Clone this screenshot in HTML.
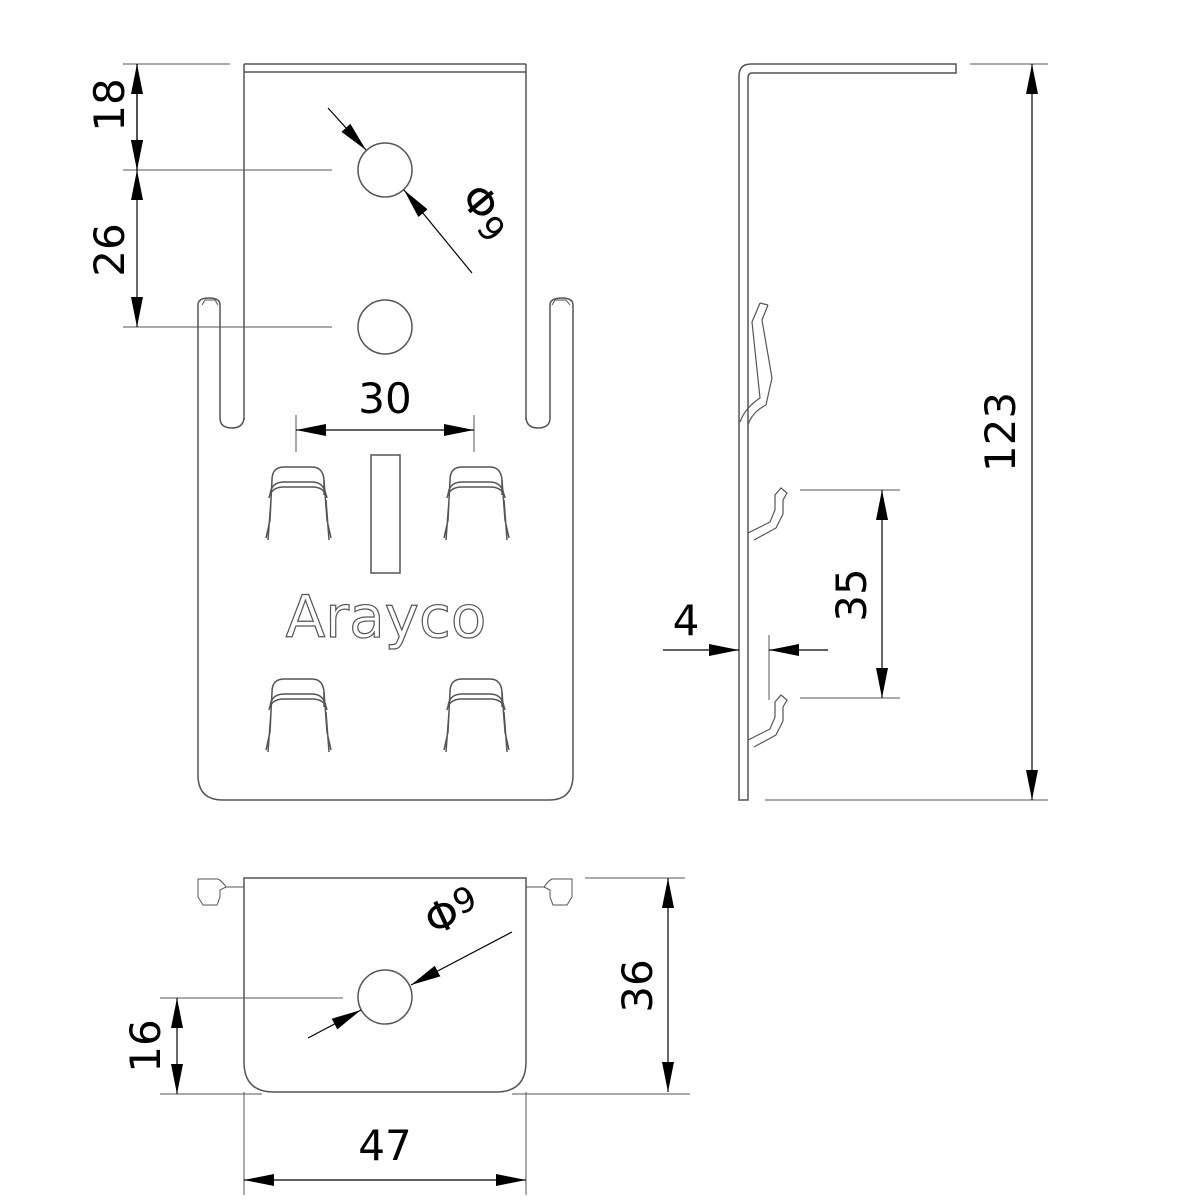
<!DOCTYPE html>
<html><head><meta charset="utf-8"><style>
html,body{margin:0;padding:0;background:#fff;width:1200px;height:1200px;overflow:hidden}
text{font-family:"DejaVu Sans","Liberation Sans",sans-serif;fill:#000}
</style></head><body>
<svg width="1200" height="1200" viewBox="0 0 1200 1200" xmlns="http://www.w3.org/2000/svg">
<defs>
<marker id="a" viewBox="0 0 10 4" refX="10" refY="2" markerWidth="30" markerHeight="12" markerUnits="userSpaceOnUse" orient="auto"><path d="M0 0 L10 2 L0 4 Z" fill="#000"/></marker>
</defs>
<g fill="none" stroke="#555" stroke-width="1.5">
<!-- FRONT VIEW -->
<line x1="244" y1="64" x2="526" y2="64"/>
<line x1="244" y1="72" x2="526" y2="72"/>
<line x1="244" y1="64" x2="244" y2="420"/>
<line x1="526" y1="64" x2="526" y2="420"/>
<path d="M244 418 Q243 428 232 428 Q220 428 220 418 L220 305 Q220 298 209 298 Q198 298 198 305 L198 775 Q198 800 223 800 L549 800 Q573 800 573 775 L573 305 Q573 298 562 298 Q550 298 550 305 L550 418 Q550 428 538 428 Q527 428 526 418"/>
<path d="M202 305 L205 300 L215 300 L218 305 M552 305 L555 300 L566 300 L570 305" stroke-width="1"/>
<circle cx="385" cy="170" r="27"/>
<circle cx="385" cy="327" r="27"/>
<rect x="371" y="455" width="29" height="118"/>
<!-- tabs -->
<g id="tab">
<path d="M272 480 Q272 467 284 467 L312 467 Q323 467 324 480 L324 495"/>
<path d="M270 495 Q271 482 284 482 L312 482 Q324 482 326 495"/>
<path d="M269 498 Q271 487 284 487 L312 487 Q325 487 327 498"/>
<path d="M272 480 L270 520 L266 538 M271 500 L268 540"/>
<path d="M324 480 L327 520 L331 538 M326 500 L329 540"/>
</g>
<use href="#tab" x="178"/>
<use href="#tab" y="212"/>
<use href="#tab" x="178" y="212"/>
<!-- dims front -->
<line x1="123" y1="64" x2="230" y2="64" stroke-width="1"/>
<line x1="123" y1="170" x2="332" y2="170" stroke-width="1"/>
<line x1="123" y1="327" x2="332" y2="327" stroke-width="1"/>
<line x1="296" y1="415" x2="296" y2="452" stroke-width="1"/>
<line x1="474" y1="415" x2="474" y2="452" stroke-width="1"/>
<!-- SIDE VIEW -->
<path d="M739 800 L739 76 Q739 64 751 64 L956 64 L956 73 L752 73 Q748 73 748 78 L748 800 Z"/>
<path d="M748 425 Q752 412 766 405 L772 378 L762 320 L768 305 M740 422 Q745 408 760 398 L752 322 L760 303 M760 303 L768 305" stroke-width="1.2"/>
<path d="M748 533 L770 522 L775 510 L775 495 L781 488 L787 493 L783 500 L783 514 L776 528 L754 540" stroke-width="1.2"/>
<path d="M748 740 L770 729 L775 717 L775 702 L781 695 L787 700 L783 707 L783 721 L776 735 L754 747" stroke-width="1.2"/>
<line x1="970" y1="64" x2="1048" y2="64" stroke-width="1"/>
<line x1="765" y1="800" x2="1048" y2="800" stroke-width="1"/>
<line x1="800" y1="490" x2="900" y2="490" stroke-width="1"/>
<line x1="800" y1="698" x2="900" y2="698" stroke-width="1"/>
<line x1="769" y1="635" x2="769" y2="700" stroke-width="1"/>
<!-- BOTTOM VIEW -->
<path d="M244 878 L526 878 L526 1062 Q526 1092 496 1092 L274 1092 Q244 1092 244 1062 Z"/>
<line x1="244" y1="1092" x2="244" y2="1195" stroke-width="1"/>
<line x1="526" y1="1092" x2="526" y2="1195" stroke-width="1"/>
<path d="M244 887 L226 887 Q222 881 218 879 L198 879 L198 897 L203 905 L217 905 L220 897 L220 890 L226 887" stroke-width="1"/>
<path d="M526 887 L544 887 Q548 881 552 879 L572 879 L572 897 L567 905 L553 905 L550 897 L550 890 L544 887" stroke-width="1"/>
<circle cx="385" cy="997" r="27"/>
<line x1="160" y1="998" x2="343" y2="998" stroke-width="1"/>
<line x1="160" y1="1094" x2="262" y2="1094" stroke-width="1"/>
<line x1="512" y1="1094" x2="690" y2="1094" stroke-width="1"/>
<line x1="585" y1="878" x2="685" y2="878" stroke-width="1"/>
</g>
<g stroke="#000" stroke-width="1.2" fill="none">
<line x1="137" y1="64" x2="137" y2="170" marker-start="url(#a)" marker-end="url(#a)" style="marker-start:none"/>
<path d="M137 117 L137 64" marker-end="url(#a)"/><path d="M137 117 L137 170" marker-end="url(#a)"/>
<path d="M137 248 L137 170" marker-end="url(#a)"/><path d="M137 248 L137 327" marker-end="url(#a)"/>
<path d="M328 108 L366 150" marker-end="url(#a)"/>
<path d="M472 273 L404 190" marker-end="url(#a)"/>
<path d="M385 430 L296 430" marker-end="url(#a)"/><path d="M385 430 L474 430" marker-end="url(#a)"/>
<path d="M1032 430 L1032 64" marker-end="url(#a)"/><path d="M1032 430 L1032 800" marker-end="url(#a)"/>
<path d="M882 594 L882 490" marker-end="url(#a)"/><path d="M882 594 L882 698" marker-end="url(#a)"/>
<path d="M663 650 L739 650" marker-end="url(#a)"/><path d="M828 650 L769 650" marker-end="url(#a)"/>
<path d="M177 1046 L177 998" marker-end="url(#a)"/><path d="M177 1046 L177 1094" marker-end="url(#a)"/>
<path d="M668 985 L668 878" marker-end="url(#a)"/><path d="M668 985 L668 1092" marker-end="url(#a)"/>
<path d="M385 1180 L244 1180" marker-end="url(#a)"/><path d="M385 1180 L526 1180" marker-end="url(#a)"/>
<path d="M512 932 L411 985" marker-end="url(#a)"/>
<path d="M308 1038 L361 1010" marker-end="url(#a)"/>
</g>
<g font-size="42">
<text transform="translate(124,105) rotate(-90)" text-anchor="middle">18</text>
<text transform="translate(124,250) rotate(-90)" text-anchor="middle">26</text>
<text x="385" y="413" text-anchor="middle">30</text>
<text transform="translate(1015,432) rotate(-90)" text-anchor="middle">123</text>
<text transform="translate(866,595) rotate(-90)" text-anchor="middle">35</text>
<text x="686" y="635" text-anchor="middle">4</text>
<text transform="translate(160,1046) rotate(-90)" text-anchor="middle">16</text>
<text transform="translate(652,986) rotate(-90)" text-anchor="middle">36</text>
<text x="385" y="1160" text-anchor="middle">47</text>
<text transform="translate(476,220) rotate(50)" text-anchor="middle">Φ<tspan font-size="34" dy="6">9</tspan></text>
<text transform="translate(458,925) rotate(-25)" text-anchor="middle">Φ<tspan font-size="34" dy="-8">9</tspan></text>
</g>
<text x="386" y="637" text-anchor="middle" font-size="58" style="fill:#fff;stroke:#555;stroke-width:1.2;font-family:'DejaVu Sans',sans-serif">Arayco</text>
</svg>
</body></html>
